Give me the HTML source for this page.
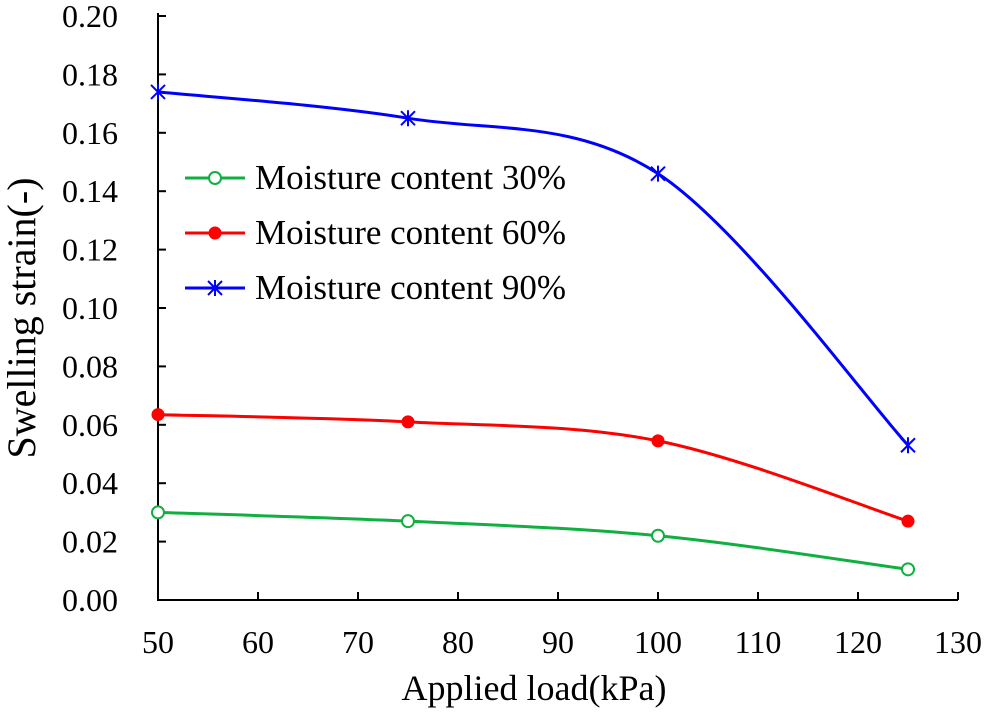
<!DOCTYPE html>
<html><head><meta charset="utf-8"><style>body{margin:0;background:#fff}text{font-family:"Liberation Serif","Times New Roman","DejaVu Serif",serif;fill:#000}</style></head>
<body>
<svg id="c" width="986" height="712" font-family="Liberation Serif, Times New Roman, serif"></svg>
<script>
const loads=[50,75,100,125];
const m30=[0.030,0.027,0.022,0.0105];
const m60=[0.0635,0.061,0.0545,0.027];
const m90=[0.174,0.165,0.146,0.053];
const xTicks=[50,60,70,80,90,100,110,120,130];
const yTicks=[0,0.02,0.04,0.06,0.08,0.10,0.12,0.14,0.16,0.18,0.20];
const seriesNames=["Moisture content 30%","Moisture content 60%","Moisture content 90%"];
const L=158,R=958,T=16,B=600,FF='Liberation Serif, Times New Roman, serif';
const X=v=>L+(v-50)/80*(R-L), Y=v=>B-v/0.2*(B-T);
const svg=document.getElementById('c'),NS='http://www.w3.org/2000/svg';
function el(t,a,p){const e=document.createElementNS(NS,t);for(const k in a)e.setAttribute(k,a[k]);if(t=='text')e.setAttribute('font-family',FF);(p||svg).appendChild(e);return e;}
let e;
e=el('path',{d:`M${L},${T-3}V${B}H${R}`,stroke:'#000','stroke-width':2,fill:'none'});


xTicks.forEach(v=>{el('line',{x1:X(v),x2:X(v),y1:B,y2:B-8,stroke:'#000','stroke-width':2});
 e=el('text',{x:X(v),y:B+53,'text-anchor':'middle','font-size':32});e.textContent=v;
 
 });
yTicks.forEach(v=>{el('line',{x1:L,x2:L+8,y1:Y(v),y2:Y(v),stroke:'#000','stroke-width':2});
 e=el('text',{x:L-40,y:Y(v)+11,'text-anchor':'end','font-size':32});e.textContent=v.toFixed(2);
 
 });
e=el('text',{x:534,y:700,'text-anchor':'middle','font-size':36});e.textContent='Applied load(kPa)';


e=el('text',{x:0,y:0,'text-anchor':'middle','font-size':40,transform:'translate(35,318) rotate(-90)'});e.textContent='Swelling strain(-)';


function smooth(p){let d=`M${p[0][0]},${p[0][1]}`;for(let i=0;i<p.length-1;i++){const a=p[i-1]||p[i],b=p[i],c=p[i+1],n=p[i+2]||c;
 d+=`C${b[0]+(c[0]-a[0])/6},${b[1]+(c[1]-a[1])/6} ${c[0]-(n[0]-b[0])/6},${c[1]-(n[1]-b[1])/6} ${c[0]},${c[1]}`;}return d;}
function marker(g,x,y,type,col){
 if(type==0)el('circle',{cx:x,cy:y,r:6,fill:'#fff',stroke:col,'stroke-width':2},g);
 else if(type==1)el('circle',{cx:x,cy:y,r:6.5,fill:col},g);
 else el('path',{d:`M${x-7},${y-7}L${x+7},${y+7}M${x-7},${y+7}L${x+7},${y-7}M${x},${y-8}V${y+8}`,stroke:col,'stroke-width':2},g);}
const cols=['#10b040','#ff0000','#0000ff'],all=[m30,m60,m90],names=['series-30','series-60','series-90'];
all.forEach((s,k)=>{const g=el('g',{});
 
 
 el('path',{d:smooth(loads.map((v,i)=>[X(v),Y(s[i])])),stroke:cols[k],'stroke-width':3,fill:'none'},g);
 loads.forEach((v,i)=>marker(g,X(v),Y(s[i]),k,cols[k]));
 const ly=178+k*55,lg=el('g',{});
 
 
 el('line',{x1:185,x2:245,y1:ly,y2:ly,stroke:cols[k],'stroke-width':3},lg);
 marker(lg,215,ly,k,cols[k]);
 const t=el('text',{x:255,y:ly+11,'font-size':35},lg);t.textContent=seriesNames[k];});
</script>
</body></html>
